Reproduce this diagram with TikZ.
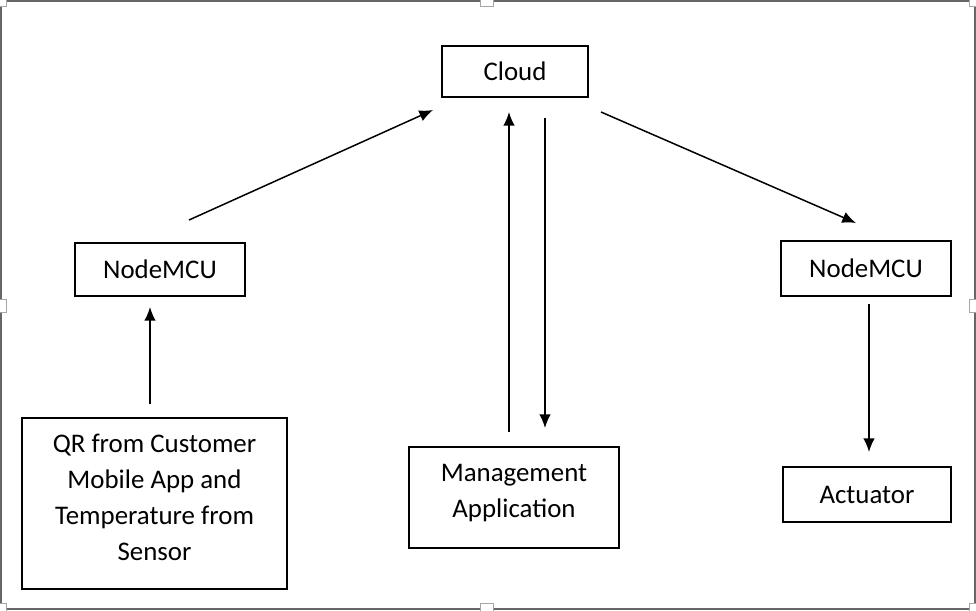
\documentclass[tikz,border=0pt]{standalone}
\usepackage{fontspec}
\setmainfont{Carlito}
\usetikzlibrary{arrows.meta}

\tikzset{
  box/.style={draw,line width=1.1pt,inner sep=0pt,align=center,
              font=\fontsize{15.3}{20.4}\selectfont},
  flow/.style={line width=0.85pt,-{Latex[length=7.8pt,width=6.6pt]}},
  handle/.style={draw=gray!70,fill=white,line width=0.5pt}
}

\begin{document}
\begin{tikzpicture}[x=0.02cm,y=-0.02cm]
\useasboundingbox (0,0) rectangle (976,610);
% FRAME
\draw[gray!80!black,line width=0.9pt] (0.8,0.8) rectangle (975.2,609.2);
\foreach \hx/\hy in {0/0,487/0,976/0,0/306,976/306,0/610,487/610,976/610}
  \draw[handle] (\hx-6.5,\hy-6.5) rectangle (\hx+6.5,\hy+6.5);
% NODES
\node[box,minimum width=146*0.02cm,minimum height=51*0.02cm] (cloud) at (515,71.5) {Cloud};
\node[box,minimum width=170*0.02cm,minimum height=53*0.02cm] (mcuL) at (160,269.5) {NodeMCU};
\node[box,minimum width=170*0.02cm,minimum height=55*0.02cm] (mcuR) at (866,268.5) {NodeMCU};
\node[box,text depth=7pt,minimum width=265*0.02cm,minimum height=171*0.02cm] (qr) at (154.5,503.5)
  {QR from Customer\\Mobile App and\\Temperature from\\Sensor};
\node[box,text depth=7.5pt,minimum width=210*0.02cm,minimum height=101*0.02cm] (mgmt) at (514,497.5)
  {Management\\Application};
\node[box,minimum width=168*0.02cm,minimum height=55*0.02cm] (act) at (867,494.5) {Actuator};
% END POINTS
\coordinate (mcuL-out) at (189,220);
\coordinate (cloud-inL) at (433,110);
\coordinate (qr-out) at (150,404);
\coordinate (mcuL-in) at (150,307);
\coordinate (mgmt-out) at (509,432);
\coordinate (cloud-inM) at (509,112);
\coordinate (cloud-outM) at (545,118);
\coordinate (mgmt-in) at (545,428);
\coordinate (cloud-outR) at (601,112);
\coordinate (mcuR-in) at (856,223);
\coordinate (mcuR-out) at (869,304);
\coordinate (act-in) at (869,452);
% CONNECTIONS
\draw[flow] (qr-out) -- (mcuL-in);
\draw[flow] (mcuL-out) -- (cloud-inL);
\draw[flow] (mgmt-out) -- (cloud-inM);
\draw[flow] (cloud-outM) -- (mgmt-in);
\draw[flow] (cloud-outR) -- (mcuR-in);
\draw[flow] (mcuR-out) -- (act-in);
\end{tikzpicture}
\end{document}
